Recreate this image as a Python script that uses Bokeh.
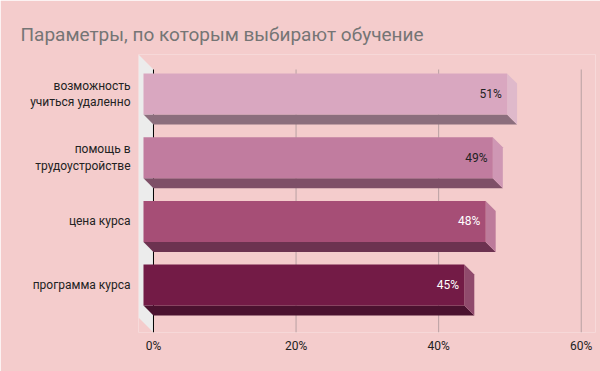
from bokeh.plotting import figure
from bokeh.models import Range1d, FixedTicker, PrintfTickFormatter, ColumnDataSource
from bokeh.core.properties import value
from bokeh.embed import file_html
from bokeh.resources import INLINE

title_text = "Параметры, по которым выбирают обучение"
categories = ["возможность\nучиться удаленно", "помощь в\nтрудоустройстве", "цена курса", "программа курса"]
values = [51, 49, 48, 45]
x_ticks = [0, 20, 40, 60]

front_colors = ["#d9a7c0", "#c17c9f", "#a64e76", "#731b46"]
bottom_colors = ["#8c6e7d", "#7e4f67", "#6c3250", "#4b122f"]
side_colors = ["#dfb9cb", "#cf97b4", "#bd7b9b", "#904a6c"]
label_colors = ["#222222", "#222222", "#ffffff", "#ffffff"]

BG = "#f4cccc"
GRID = "#b8a0a2"
WALL = "#ececec"
TXT = "#222222"
FONT = "Roboto"

# 3D geometry (data units)
DX = 1.4      # depth shift along x
DY = 0.157    # depth shift along y
H = 0.322     # half bar height
Y_TOP, Y_BOT = -0.620, 3.744
BACK_TOP = -0.385
WALL_FRONT_BOT = 3.508
X0, X1 = -2.1, 62.0

p = figure(width=600, height=371, output_backend="svg", toolbar_location=None,
           x_range=Range1d(X0, X1), y_range=Range1d(Y_BOT, Y_TOP),
           min_border_left=138, min_border_right=5, min_border_top=54, min_border_bottom=39,
           background_fill_color=BG, border_fill_color=BG, outline_line_color=None)

p.xgrid.visible = False
p.ygrid.visible = False

# left wall
p.patch(x=[X0, 0, 0, X0], y=[Y_TOP, BACK_TOP, Y_BOT, WALL_FRONT_BOT],
        fill_color=WALL, line_color=None)

# grid lines on back plane
gx = [t for t in x_ticks if t != 0]
p.segment(x0=gx, y0=[BACK_TOP] * len(gx), x1=gx, y1=[Y_BOT] * len(gx),
          line_color=GRID, line_width=1)
p.segment(x0=[0], y0=[BACK_TOP], x1=[0], y1=[Y_BOT], line_color="#000000", line_width=1)

# bars
ys = list(range(len(values)))
front = ColumnDataSource(dict(
    left=[-DX] * len(values), right=[v - DX for v in values],
    top=[y - H for y in ys], bottom=[y + H for y in ys], color=front_colors))
bottom_xs, bottom_ys, side_xs, side_ys = [], [], [], []
for v, y in zip(values, ys):
    bottom_xs.append([-DX, v - DX, v, 0])
    bottom_ys.append([y + H, y + H, y + DY + H, y + DY + H])
    side_xs.append([v - DX, v, v, v - DX])
    side_ys.append([y - H, y + DY - H, y + DY + H, y + H])

p.patches(xs=bottom_xs, ys=bottom_ys, fill_color=bottom_colors, line_color=None)
p.patches(xs=side_xs, ys=side_ys, fill_color=side_colors, line_color=None)
p.quad(left="left", right="right", top="top", bottom="bottom", source=front,
       fill_color="color", line_color=None)

# value labels
p.text(x=[v - DX - 0.75 for v in values], y=ys, text=[f"{v}%" for v in values],
       text_align="right", text_baseline="middle", text_color=label_colors,
       text_font=value(FONT), text_font_size="12px")

# axes
p.yaxis.ticker = FixedTicker(ticks=ys)
p.yaxis.major_label_overrides = {i: c for i, c in zip(ys, categories)}
p.xaxis.ticker = FixedTicker(ticks=x_ticks)
p.xaxis.formatter = PrintfTickFormatter(format="%d%%")
for ax in (p.xaxis, p.yaxis):
    ax.axis_line_color = None
    ax.major_tick_line_color = None
    ax.minor_tick_line_color = None
    ax.major_tick_out = 0
    ax.major_label_text_font = FONT
    ax.major_label_text_font_size = "12px"
    ax.major_label_text_color = TXT
p.yaxis.major_label_standoff = 8
p.xaxis.major_label_standoff = 6

p.title.text = title_text
p.title.text_font = FONT
p.title.text_font_size = "19px"
p.title.text_font_style = "normal"
p.title.text_color = "#757575"
p.title.align = "left"
p.title.offset = -118
p.title.standoff = 18

open("out.html", "w").write(file_html(p, INLINE))
